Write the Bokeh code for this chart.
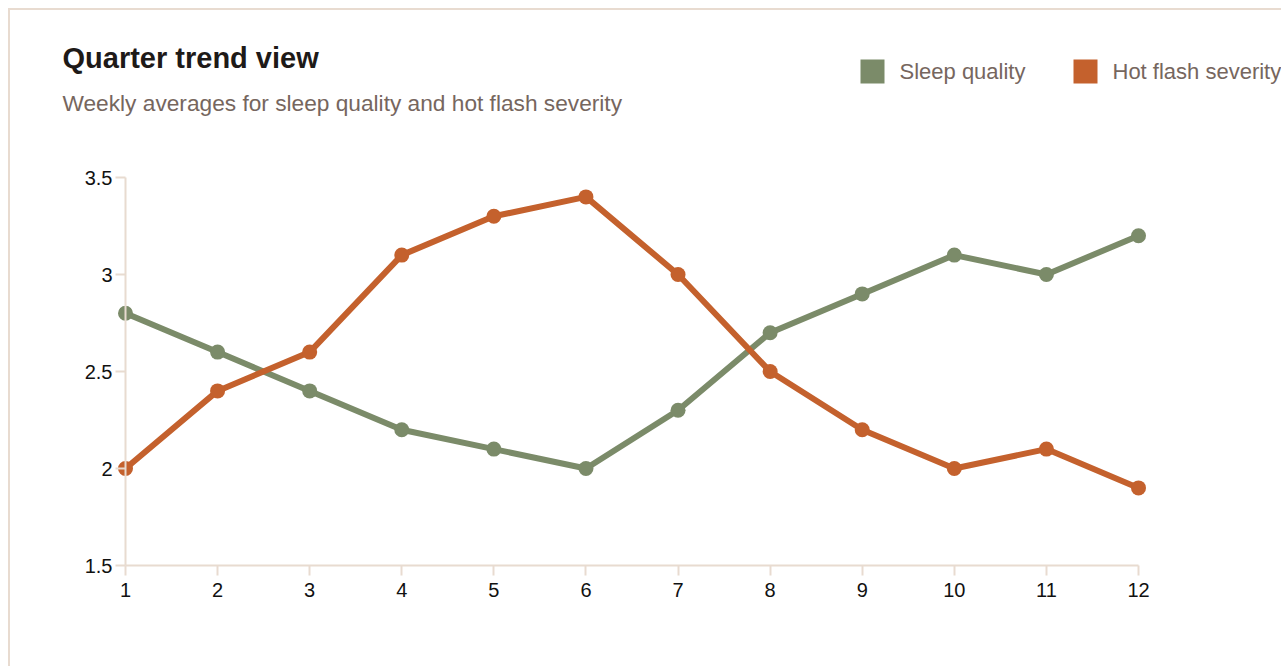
from bokeh.plotting import figure
from bokeh.models import Range1d, FixedTicker, Label, BoxAnnotation
from bokeh.embed import file_html
from bokeh.resources import INLINE

weeks = [1, 2, 3, 4, 5, 6, 7, 8, 9, 10, 11, 12]
sleep_quality = [2.8, 2.6, 2.4, 2.2, 2.1, 2.0, 2.3, 2.7, 2.9, 3.1, 3.0, 3.2]
hot_flash = [2.0, 2.4, 2.6, 3.1, 3.3, 3.4, 3.0, 2.5, 2.2, 2.0, 2.1, 1.9]
y_ticks = [1.5, 2, 2.5, 3, 3.5]
y_tick_labels = ["1.5", "2", "2.5", "3", "3.5"]
x_tick_labels = [str(w) for w in weeks]
legend_names = ["Sleep quality", "Hot flash severity"]

GREEN = "#7b8b69"
ORANGE = "#c4612d"
AXIS = "#e8dbd0"
MUTED = "#76665e"
FONT = "Liberation Sans"

# layout (page pixels)
MARGIN = 8
BORDER = 2
ORIGIN = MARGIN + BORDER
W, H = 1283 - ORIGIN, 668 - ORIGIN
ML, MB = 47, 60                    # canvas margins around the frame
FL, FR = ORIGIN + ML, 1283         # frame left/right on page
FT, FB = ORIGIN, 668 - MB          # frame top/bottom on page
X0P, X1P = 125, 1138               # page x of first/last week
Y0P, Y1P = 565, 177                # page y of lowest/highest y tick

kx = (X1P - X0P) / (weeks[-1] - weeks[0])
ky = (Y0P - Y1P) / (y_ticks[-1] - y_ticks[0])
x_start = weeks[0] - (X0P - FL) / kx
x_end = weeks[-1] + (FR - X1P) / kx
y_start = y_ticks[0] - (FB - Y0P) / ky
y_end = y_ticks[-1] + (Y1P - FT) / ky


def px_x(px):
    return weeks[0] + (px - X0P) / kx


def px_y(py):
    return y_ticks[0] + (Y0P - py) / ky


p = figure(width=W, height=H, output_backend="svg", toolbar_location=None,
           title=None,
           x_range=Range1d(x_start, x_end), y_range=Range1d(y_start, y_end),
           min_border_left=ML, min_border_right=0,
           min_border_top=0, min_border_bottom=MB)
p.styles = {"margin-left": f"{MARGIN}px", "margin-top": f"{MARGIN}px",
            "border-top": f"{BORDER}px solid {AXIS}",
            "border-left": f"{BORDER}px solid {AXIS}"}
p.outline_line_color = None
p.grid.visible = False
p.background_fill_color = "white"
p.border_fill_color = "white"

for ax in (p.xaxis[0], p.yaxis[0]):
    ax.axis_line_color = AXIS
    ax.axis_line_width = 2
    ax.major_tick_line_color = AXIS
    ax.major_tick_line_width = 2
    ax.major_tick_out = 10
    ax.major_tick_in = 0
    ax.minor_tick_line_color = None
    ax.major_label_text_font = FONT
    ax.major_label_text_font_size = "20px"
    ax.major_label_text_color = "#111111"

p.xaxis.ticker = FixedTicker(ticks=weeks)
p.xaxis.major_label_overrides = {w: l for w, l in zip(weeks, x_tick_labels)}
p.xaxis.bounds = (weeks[0], weeks[-1])
p.xaxis.fixed_location = y_ticks[0]
p.xaxis.major_label_standoff = 7

p.yaxis.ticker = FixedTicker(ticks=y_ticks)
p.yaxis.major_label_overrides = {t: l for t, l in zip(y_ticks, y_tick_labels)}
p.yaxis.bounds = (y_ticks[0], y_ticks[-1])
p.yaxis.fixed_location = weeks[0]
p.yaxis.major_label_standoff = 3

p.line(weeks, sleep_quality, line_color=GREEN, line_width=6, line_join="round")
p.scatter(weeks, sleep_quality, size=15, fill_color=GREEN, line_color=None)
p.line(weeks, hot_flash, line_color=ORANGE, line_width=6, line_join="round")
p.scatter(weeks, hot_flash, size=15, fill_color=ORANGE, line_color=None)

p.add_layout(Label(x=px_x(62), y=px_y(57),
                   text="Quarter trend view", text_font=FONT,
                   text_font_size="29px", text_font_style="bold",
                   text_color="#1e1a18", text_baseline="alphabetic"))
p.add_layout(Label(x=px_x(62), y=px_y(102),
                   text="Weekly averages for sleep quality and hot flash severity",
                   text_font=FONT, text_font_size="22.7px",
                   text_color=MUTED, text_baseline="alphabetic"))

legend_colors = [GREEN, ORANGE]
legend_px = [860, 1073]
for name, col, lx in zip(legend_names, legend_colors, legend_px):
    p.add_layout(BoxAnnotation(left=px_x(lx), right=px_x(lx + 24),
                               top=px_y(59), bottom=px_y(83),
                               fill_color=col, fill_alpha=1, line_color=None))
    p.add_layout(Label(x=px_x(lx + 39), y=px_y(71),
                       text=name, text_font=FONT, text_font_size="22px",
                       text_color=MUTED, text_baseline="middle"))

open("out.html", "w").write(file_html(p, INLINE))
